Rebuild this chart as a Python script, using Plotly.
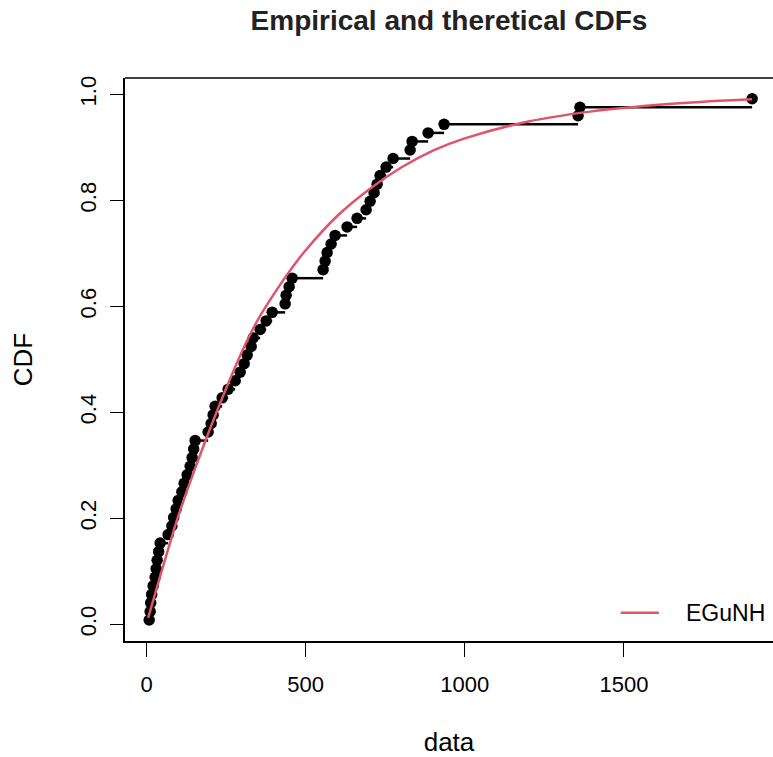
import plotly.graph_objects as go

# Sorted observations
data_x = [8.2, 11.3, 12.9, 16.0, 20.7, 27.0, 30.2, 33.3, 38.0, 42.7,
          67.9, 79.5, 85.1, 93.0, 99.3, 110.9, 118.1, 127.5, 137.0, 143.3,
          148.0, 152.7, 193.5, 203.0, 209.2, 215.5, 237.5, 256.4, 278.4, 294.1,
          306.7, 316.1, 328.7, 335.0, 357.0, 375.8, 394.7, 435.5, 438.6, 448.0,
          457.5, 554.8, 561.1, 567.4, 580.0, 592.5, 630.2, 661.6, 689.9, 702.5,
          715.0, 724.5, 733.9, 752.8, 774.8, 828.2, 834.5, 884.8, 935.0, 1356.0,
          1362.0, 1903.0]

# Fitted EGuNH distribution function, sampled along the data range
fit_x = [5, 40, 100, 150, 200, 250, 300, 350, 400, 450, 500, 600, 700, 800,
         900, 1000, 1200, 1400, 1600, 1800, 1903]
fit_cdf = [0.012, 0.085, 0.205, 0.290, 0.370, 0.445, 0.515, 0.575, 0.623,
           0.667, 0.706, 0.771, 0.821, 0.862, 0.894, 0.917, 0.949, 0.968,
           0.980, 0.988, 0.991]

x_ticks = [0, 500, 1000, 1500]
y_ticks = [0.0, 0.2, 0.4, 0.6, 0.8, 1.0]

n = len(data_x)
# Plotting positions (i - 0.5) / n, as in R's ppoints()
emp_p = [(i + 0.5) / n for i in range(n)]

# Horizontal steps from each observation to the next one
seg_x, seg_y = [], []
for i in range(n - 1):
    seg_x += [data_x[i], data_x[i + 1], None]
    seg_y += [emp_p[i], emp_p[i], None]

FONT = "Liberation Sans, Arial, Helvetica, sans-serif"
RED = "#DF536B"

fig = go.Figure()
fig.add_trace(go.Scatter(x=seg_x, y=seg_y, mode="lines",
                         line=dict(color="black", width=2.5),
                         showlegend=False, hoverinfo="skip"))
fig.add_trace(go.Scatter(x=data_x, y=emp_p, mode="markers",
                         marker=dict(color="black", size=11.5),
                         showlegend=False))
fig.add_trace(go.Scatter(x=fit_x, y=fit_cdf, mode="lines", name="EGuNH",
                         line=dict(color=RED, width=2.5, shape="spline",
                                   smoothing=0.8),
                         showlegend=False))

fig.update_layout(
    width=773, height=757,
    margin=dict(l=125, r=0, t=78, b=116),
    paper_bgcolor="white", plot_bgcolor="white",
    font=dict(family=FONT, color="black", size=22),
    title=dict(text="<b>Empirical and theretical CDFs</b>",
               font=dict(size=28, color="#222222"),
               x=0.5, xref="paper", xanchor="center",
               y=1 - 20 / 757, yref="container", yanchor="middle"),
    showlegend=False,
)

fig.update_xaxes(range=[-67.8, 1968.6], tickvals=x_ticks,
                 ticks="outside", ticklen=14, tickwidth=1.2, tickcolor="black",
                 ticklabelstandoff=9,
                 showline=True, linecolor="black", linewidth=1.5,
                 showgrid=False, zeroline=False,
                 title=dict(text="data", standoff=40))
fig.update_yaxes(range=[-0.0315, 1.031], tickvals=y_ticks, tickformat=".1f",
                 tickangle=-90, ticklabelstandoff=5,
                 ticks="outside", ticklen=13, tickwidth=1.2, tickcolor="black",
                 showline=True, linecolor="black", linewidth=1.5,
                 showgrid=False, zeroline=False,
                 title=dict(text="CDF", standoff=36))

# Top edge of the plot frame
fig.add_shape(type="line", xref="paper", yref="paper", x0=0, x1=1, y0=1, y1=1,
              line=dict(color="black", width=1.5))

# Legend key (bottom right, no frame)
fig.add_shape(type="line", xref="x", yref="y", x0=1490, x1=1610, y0=0.022, y1=0.022,
              line=dict(color=RED, width=2.5))
fig.add_annotation(text="EGuNH", xref="x", yref="y", x=1690, y=0.022,
                   xanchor="left", yanchor="middle", showarrow=False,
                   font=dict(size=23, color="black"))

fig.write_html("out.html")
